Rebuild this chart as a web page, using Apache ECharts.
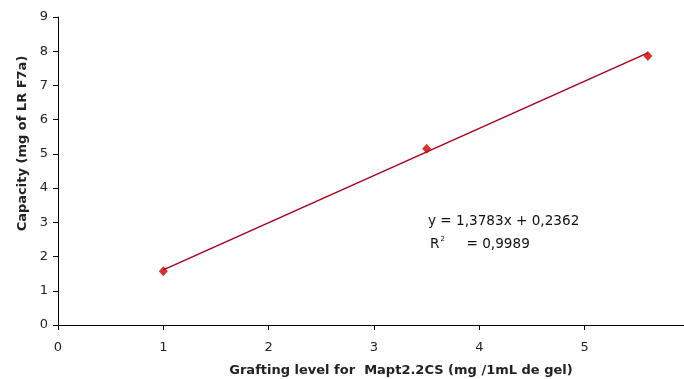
<!DOCTYPE html>
<html>
<head>
<meta charset="utf-8">
<script src="https://cdn.jsdelivr.net/npm/echarts@6/dist/echarts.min.js"></script>
<style>
  html, body { margin: 0; padding: 0; background: #fff; }
  #chart { width: 684px; height: 379px; }
</style>
</head>
<body>
<div id="chart"></div>
<script>
// measured points (grafting level, capacity)
const grafting = [1, 3.5, 5.6];
const capacity = [1.57, 5.15, 7.86];
// linear trend line end points
const trendX = [1, 5.6];
const trendY = [1.61, 7.95];
const xTicks = [0, 1, 2, 3, 4, 5];
const yTicks = [0, 1, 2, 3, 4, 5, 6, 7, 8, 9];

const font = 'DejaVu Sans';
const chart = echarts.init(document.getElementById('chart'));

chart.setOption({
    animation: false,
    // x = 6 falls just past the right edge, as in the cropped original
    grid: { left: 58, width: 632, top: 17, bottom: 54, outerBoundsMode: 'none', containLabel: false },
    xAxis: {
        type: 'value',
        min: 0, max: 6, interval: 1,
        name: 'Grafting level for  Mapt2.2CS (mg /1mL de gel)',
        nameLocation: 'middle',
        nameGap: 39,
        nameTextStyle: { fontFamily: font, fontWeight: 'bold', fontSize: 13, color: '#222', padding: [0, 0, 0, 54] },
        axisLine: { onZero: false, lineStyle: { color: '#000', width: 1 } },
        axisTick: { show: true, length: 5, lineStyle: { color: '#000' } },
        axisLabel: {
            fontFamily: font, fontSize: 13, color: '#222', margin: 16,
            formatter: v => xTicks.includes(v) ? String(v) : ''
        },
        splitLine: { show: false }
    },
    yAxis: {
        type: 'value',
        min: 0, max: 9, interval: 1,
        name: 'Capacity (mg of LR F7a)',
        nameLocation: 'middle',
        nameGap: 21,
        nameTextStyle: { fontFamily: font, fontWeight: 'bold', fontSize: 13, color: '#222', padding: [0, 0, 0, 55] },
        axisLine: { show: true, lineStyle: { color: '#000', width: 1 } },
        axisTick: { show: true, length: 5, lineStyle: { color: '#000' } },
        axisLabel: {
            fontFamily: font, fontSize: 13, color: '#222', margin: 10,
            formatter: v => yTicks.includes(v) ? String(v) : ''
        },
        splitLine: { show: false }
    },
    series: [
        {
            type: 'line',
            data: trendX.map((x, i) => [x, trendY[i]]),
            showSymbol: false,
            lineStyle: { color: '#a8001e', width: 1.5 },
            z: 2
        },
        {
            type: 'scatter',
            data: grafting.map((x, i) => [x, capacity[i]]),
            symbol: 'diamond',
            symbolSize: [9, 10],
            itemStyle: { color: '#cc0000' },
            z: 3
        }
    ],
    graphic: [
        {
            type: 'text', left: 428, top: 214,
            style: { text: 'y = 1,3783x + 0,2362', font: '13.6px "DejaVu Sans"', fill: '#111' }
        },
        {
            type: 'text', left: 430, top: 236,
            style: {
                text: '{r|R}{s|2}{r|     = 0,9989}',
                fill: '#111',
                rich: {
                    r: { font: '13.6px "DejaVu Sans"', fill: '#111', verticalAlign: 'bottom' },
                    s: { font: '7px "DejaVu Sans"', fill: '#111', verticalAlign: 'top', padding: [0, 0, 8, 1] }
                }
            }
        }
    ]
});
</script>
</body>
</html>
